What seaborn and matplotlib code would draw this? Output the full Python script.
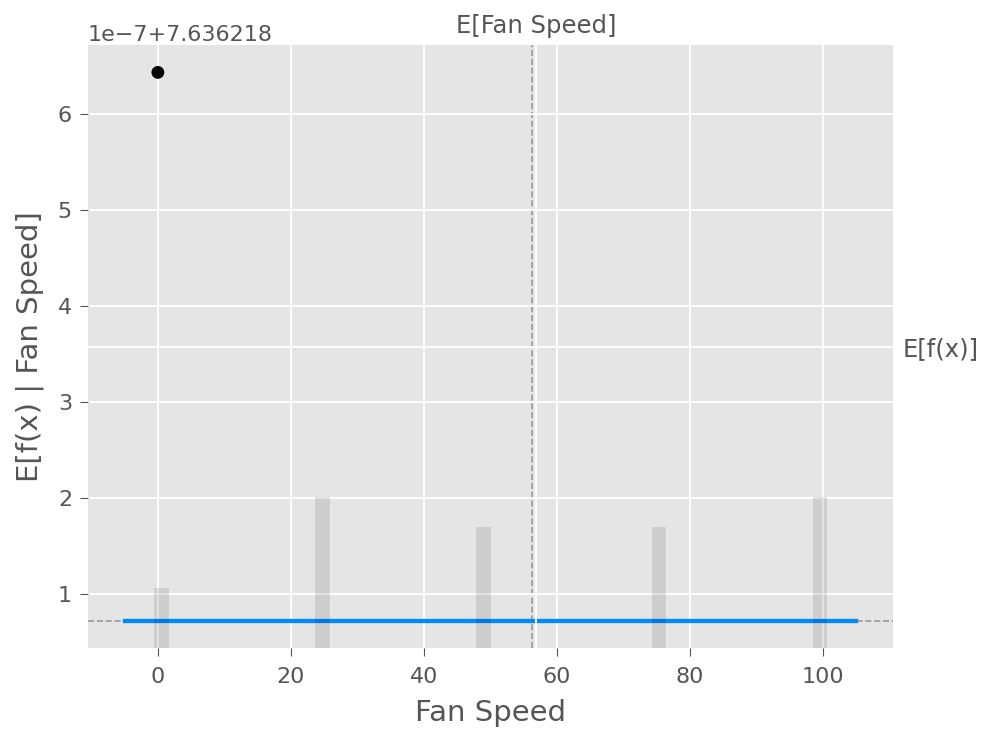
import numpy as np
import pandas as pd
import matplotlib
matplotlib.use("Agg")
import matplotlib.pyplot as plt
import seaborn as sns

# Observed fan-speed settings and how many samples sit at each one
fan_speed_values = [0, 25, 50, 75, 100]
sample_counts = [2, 5, 4, 4, 5]

# Partial dependence curve (model output is flat across the grid)
pd_grid = [-5, 105]
pd_values = [7.636218072, 7.636218072]

# Model expected value and the explained sample's output
model_expected_value = 7.636218072
sample_feature_value = [0]
sample_output = [7.636218643]

feature_name = "Fan Speed"

plt.style.use("ggplot")
plt.rcParams["font.family"] = ["DejaVu Sans"]

blue = "#008bfb"
grey_text = "#555555"
fig = plt.figure(figsize=(9.84, 7.32), dpi=100)
ax1 = fig.add_axes([88 / 984, 84 / 732, 805 / 984, 603 / 732])

line_df = pd.DataFrame({"x": pd_grid, "y": pd_values})
sns.lineplot(data=line_df, x="x", y="y", ax=ax1, color=blue, linewidth=3.1)

# Sample distribution as a faint histogram on a twin axis
ax2 = ax1.twinx()
sns.histplot(x=fan_speed_values, weights=sample_counts, bins=50,
             binrange=(pd_grid[0], pd_grid[-1]), ax=ax2, color="black",
             alpha=0.1, linewidth=0, edgecolor="none", stat="count")
ax2.set_ylim(0, sum(sample_counts))
ax2.set_yticks([])
ax2.set_ylabel("")
ax2.grid(False)

# Feature mean marker on a top axis
feature_mean = np.average(fan_speed_values, weights=sample_counts)
ax3 = ax1.twiny()
ax3.set_xlim(pd_grid[0], pd_grid[-1])
ax3.set_xticks([feature_mean])
ax3.set_xticklabels(["E[" + feature_name + "]"])
ax3.tick_params(length=0, labelsize=17.5, pad=5, colors=grey_text)
ax1.axvline(feature_mean, 0, 1, color="#999999", linestyle="--",
            linewidth=1.2, zorder=-1)

# Model expected value marker on a right axis
ax4 = ax1.twinx()
ax4.set_ylim(model_expected_value - 1e-7, model_expected_value + 1e-7)
ax4.set_yticks([model_expected_value])
ax4.set_yticklabels(["E[f(x)]"])
ax4.tick_params(length=0, labelsize=17.5, pad=7, colors=grey_text)
ax1.axhline(model_expected_value, 0, 1, color="#999999", linestyle="--",
            linewidth=1.2, zorder=-1)

pt_df = pd.DataFrame({"x": sample_feature_value, "y": sample_output})
sns.scatterplot(data=pt_df, x="x", y="y", ax=ax1, color="black", s=85,
                edgecolor="none", zorder=5)

ax1.set_xlabel(feature_name, fontsize=21, color=grey_text, labelpad=8)
ax1.set_ylabel("E[f(x) | " + feature_name + "]", fontsize=21,
               color=grey_text, labelpad=10)
ax1.tick_params(axis="x", labelsize=16, colors=grey_text, length=5.5, pad=8.5)
ax1.tick_params(axis="y", labelsize=16, colors=grey_text, length=5.5, pad=6)
ax1.yaxis.get_offset_text().set_fontsize(16)
ax1.yaxis.get_offset_text().set_color(grey_text)

for ax in (ax1, ax2, ax3, ax4):
    for s in ax.spines.values():
        s.set_visible(False)
for ax in (ax1, ax3, ax4):
    ax.grid(color="white", linewidth=1.3)
ax3.grid(axis="y", visible=False)
ax4.grid(axis="x", visible=False)

fig.savefig("out.png", dpi=100)
